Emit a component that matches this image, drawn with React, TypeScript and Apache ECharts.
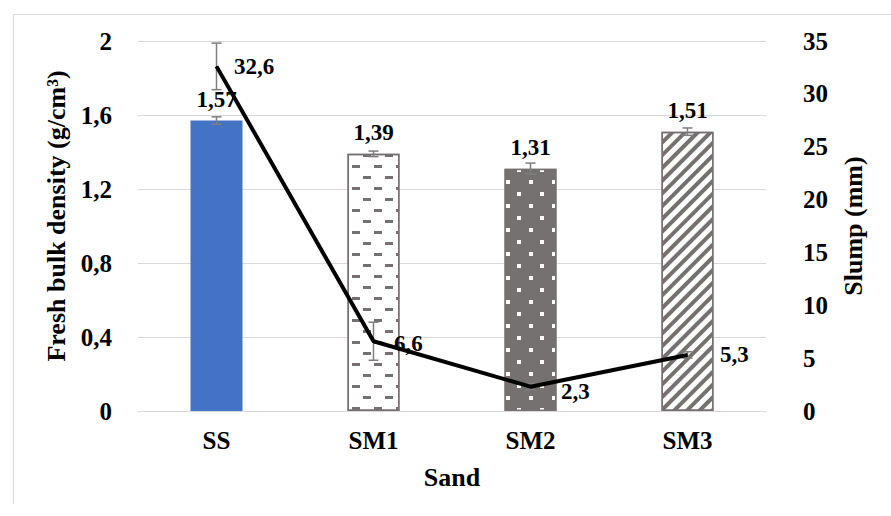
import React, { useEffect, useRef } from "react";
import * as echarts from "echarts";

const categories = ["SS", "SM1", "SM2", "SM3"];
const density = [1.57, 1.39, 1.31, 1.51];
const densityErr = [0.02, 0.015, 0.03, 0.02];
const slump = [32.6, 6.6, 2.3, 5.3];
const slumpErr = [2.2, 1.8, 0.3, 0.3];

// label placement styles for slump labels (distance, vertical offset)
const slumpLabelGap = [17, 20, 30, 32];
const slumpLabelDy = [0, 2, 5, 0];

const FONT = "'Liberation Serif', 'Times New Roman', serif";
const GREY = "#767171";

const comma = (v: number) => String(Number(v.toFixed(2))).replace(".", ",");

const barDecals: any[] = [
  null,
  {
    symbol: "rect",
    color: GREY,
    dashArrayX: [[8, 14], [0, 11, 8, 3]],
    dashArrayY: [3, 8],
  },
  {
    symbol: "rect",
    color: "#ffffff",
    dashArrayX: [[4, 19], [0, 11, 4, 8]],
    dashArrayY: [4, 8],
  },
  {
    symbol: "rect",
    color: GREY,
    dashArrayX: [1, 0],
    dashArrayY: [4, 5],
    rotation: -Math.PI / 4,
  },
];
const barColors = ["#4472C4", "#ffffff", GREY, "#ffffff"];
const barBorders = [0, 1.5, 1.5, 1.5];

function errorRenderer(params: any, api: any) {
  const i = api.value(0);
  const lo = api.coord([i, api.value(1)]);
  const hi = api.coord([i, api.value(2)]);
  const cap = 5;
  const style = { stroke: "#7f7f7f", lineWidth: 1.5 };
  return {
    type: "group",
    children: [
      { type: "line", shape: { x1: lo[0], y1: lo[1], x2: hi[0], y2: hi[1] }, style },
      { type: "line", shape: { x1: lo[0] - cap, y1: lo[1], x2: lo[0] + cap, y2: lo[1] }, style },
      { type: "line", shape: { x1: hi[0] - cap, y1: hi[1], x2: hi[0] + cap, y2: hi[1] }, style },
    ],
  };
}

export default function App() {
  const ref = useRef<HTMLDivElement>(null);
  useEffect(() => {
    if (!ref.current) return;
    const chart = echarts.init(ref.current, null, { renderer: "svg" });
    const axisFont = { color: "#000", fontWeight: "bold", fontSize: 25, fontFamily: FONT };
    const titleFont = { color: "#000", fontWeight: "bold", fontSize: 26, fontFamily: FONT };
    const option: any = {
      animation: false,
      backgroundColor: "#ffffff",
      textStyle: { fontFamily: FONT },
      graphic: [
        { type: "line", shape: { x1: 13.5, y1: 14, x2: 13.5, y2: 504 }, style: { stroke: "#d9d9d9", lineWidth: 1 } },
        { type: "line", shape: { x1: 13.5, y1: 14.5, x2: 891, y2: 14.5 }, style: { stroke: "#d9d9d9", lineWidth: 1 } },
      ],
      grid: { left: 138, right: 125, top: 41, bottom: 105, containLabel: false },
      xAxis: {
        type: "category",
        data: categories,
        axisLine: { show: false },
        axisTick: { show: false },
        axisLabel: { ...axisFont, margin: 17 },
        name: "Sand",
        nameLocation: "middle",
        nameGap: 53,
        nameTextStyle: titleFont,
      },
      yAxis: [
        {
          type: "value",
          min: 0,
          max: 2,
          interval: 0.4,
          axisLine: { show: false },
          axisTick: { show: false },
          splitLine: { lineStyle: { color: "#d9d9d9", width: 1 } },
          axisLabel: { ...axisFont, margin: 26, formatter: (v: number) => comma(v) },
          name: "Fresh bulk density (g/cm³)",
          nameLocation: "middle",
          nameRotate: 90,
          nameGap: 68,
          nameTextStyle: { ...titleFont, padding: [0, 0, 0, 20] },
        },
        {
          type: "value",
          min: 0,
          max: 35,
          interval: 5,
          position: "right",
          axisLine: { show: false },
          axisTick: { show: false },
          splitLine: { show: false },
          axisLabel: { ...axisFont, margin: 37 },
          name: "Slump (mm)",
          nameLocation: "middle",
          nameRotate: 90,
          nameGap: 74,
          nameTextStyle: titleFont,
        },
      ],
      series: [
        {
          type: "bar",
          yAxisIndex: 0,
          barWidth: 52,
          z: 2,
          data: density.map((v, i) => ({
            value: v,
            itemStyle: {
              color: barColors[i],
              borderColor: GREY,
              borderWidth: barBorders[i],
              decal: barDecals[i] || undefined,
            },
          })),
          label: {
            show: true,
            position: "top",
            distance: 10,
            color: "#000",
            fontWeight: "bold",
            fontSize: 23,
            fontFamily: FONT,
            formatter: (p: any) => comma(p.value),
          },
        },
        {
          type: "custom",
          yAxisIndex: 0,
          z: 3,
          renderItem: errorRenderer,
          encode: { x: 0, y: [1, 2] },
          data: density.map((v, i) => [i, v - densityErr[i], v + densityErr[i]]),
        },
        {
          type: "custom",
          yAxisIndex: 1,
          z: 3,
          renderItem: errorRenderer,
          encode: { x: 0, y: [1, 2] },
          data: slump.map((v, i) => [i, v - slumpErr[i], v + slumpErr[i]]),
        },
        {
          type: "line",
          yAxisIndex: 1,
          z: 5,
          symbol: "circle",
          symbolSize: 1,
          itemStyle: { color: "#000" },
          lineStyle: { color: "#000", width: 4 },
          data: slump.map((v, i) => ({
            value: v,
            label: { distance: slumpLabelGap[i], offset: [0, slumpLabelDy[i]] },
          })),
          label: {
            show: true,
            position: "right",
            color: "#000",
            fontWeight: "bold",
            fontSize: 23,
            fontFamily: FONT,
            formatter: (p: any) => comma(p.value),
          },
        },
      ],
    };
    chart.setOption(option);
    return () => chart.dispose();
  }, []);
  return (
    <div
      ref={ref}
      style={{ position: "absolute", left: 0, top: 0, width: 891, height: 516 }}
    />
  );
}
